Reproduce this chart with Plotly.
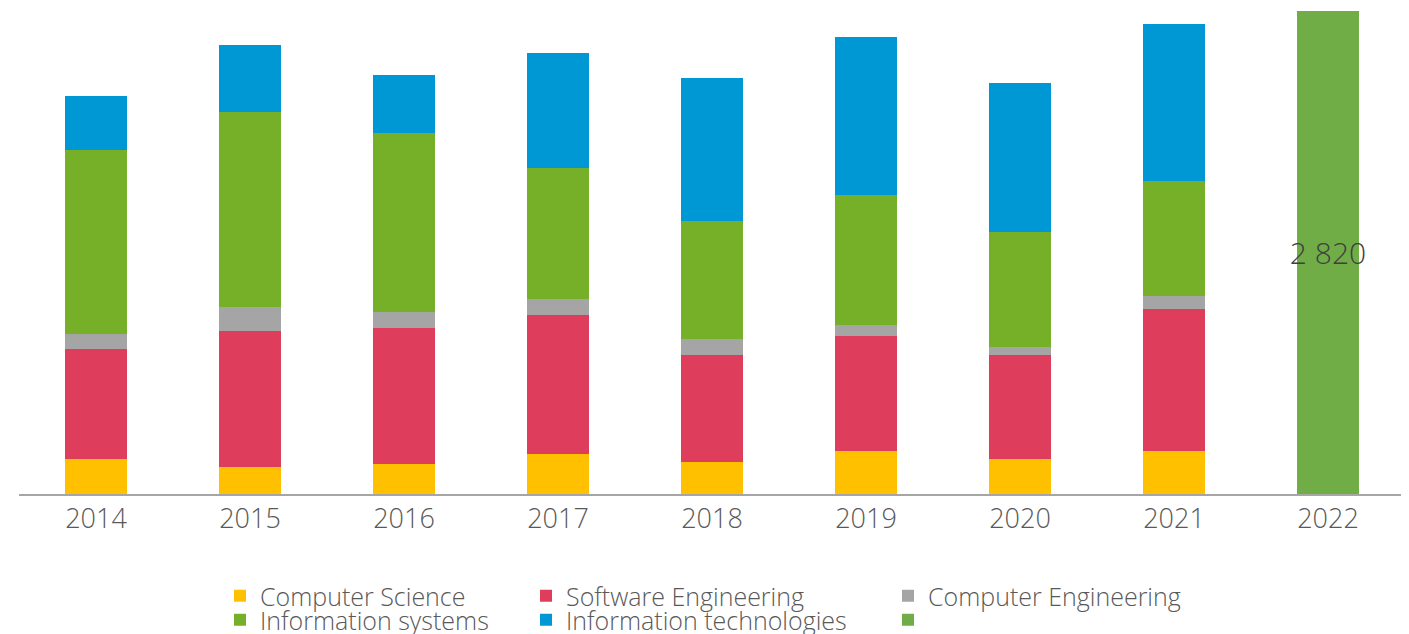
import plotly.graph_objects as go

years = ["2014", "2015", "2016", "2017", "2018", "2019", "2020", "2021"]
computer_science = [204, 158, 175, 234, 187, 251, 204, 251]
software_engineering = [642, 794, 794, 812, 625, 671, 607, 829]
computer_engineering = [88, 140, 93, 93, 93, 64, 47, 76]
information_systems = [1074, 1138, 1045, 765, 689, 759, 671, 671]
information_technologies = [315, 391, 339, 671, 835, 922, 870, 917]

total_year = ["2022"]
total_value = [2820]
total_label = ["2 820"]

FONT = "Open Sans"
TXT = "#595959"

series = [
    ("Computer Science", computer_science, "#FFC000", "legend"),
    ("Software Engineering", software_engineering, "#DE3E5C", "legend2"),
    ("Computer Engineering", computer_engineering, "#A5A5A5", "legend3"),
    ("Information systems", information_systems, "#75B028", "legend4"),
    ("Information technologies", information_technologies, "#0098D4", "legend5"),
]

fig = go.Figure()
for name, vals, col, lg in series:
    fig.add_trace(go.Bar(x=years, y=vals, name=name, marker_color=col,
                         marker_line_width=0, legend=lg))

fig.add_trace(go.Bar(x=total_year, y=total_value, name="", marker_color="#70AD47",
                     marker_line_width=0, legend="legend6",
                     text=total_label, textposition="inside", insidetextanchor="middle",
                     constraintext="none", textangle=0,
                     textfont=dict(family=FONT, size=30, color="#404040", weight=300)))

col_x = [212, 518, 880]
row_y = [588, 612]
legend_pos = {
    "legend": (col_x[0], row_y[0]),
    "legend2": (col_x[1], row_y[0]),
    "legend3": (col_x[2], row_y[0]),
    "legend4": (col_x[0], row_y[1]),
    "legend5": (col_x[1], row_y[1]),
    "legend6": (col_x[2], row_y[1]),
}
W, H = 1409, 634
legends = {}
for key, (px, py) in legend_pos.items():
    legends[key] = dict(
        x=px / W, y=1 - py / H, xref="container", yref="container",
        xanchor="left", yanchor="middle", orientation="v",
        bgcolor="rgba(0,0,0,0)", borderwidth=0,
        font=dict(family=FONT, size=25, color=TXT, weight=300),
        traceorder="normal",
    )

fig.update_layout(
    width=W, height=H,
    barmode="stack", bargap=0.6,
    plot_bgcolor="white", paper_bgcolor="white",
    margin=dict(l=11, r=12, t=3, b=148, autoexpand=False),
    showlegend=True,
    font=dict(family=FONT, color=TXT),
    xaxis=dict(
        type="category",
        categoryorder="array", categoryarray=years + total_year,
        showline=True, linecolor="#A6A6A6", linewidth=2,
        ticks="", showgrid=False, tickangle=0,
        tickfont=dict(family=FONT, size=27, color=TXT, weight=300),
    ),
    yaxis=dict(range=[0, 2820], showticklabels=False, showgrid=False,
               zeroline=False, showline=False),
    **legends,
)

fig.write_html("out.html")
